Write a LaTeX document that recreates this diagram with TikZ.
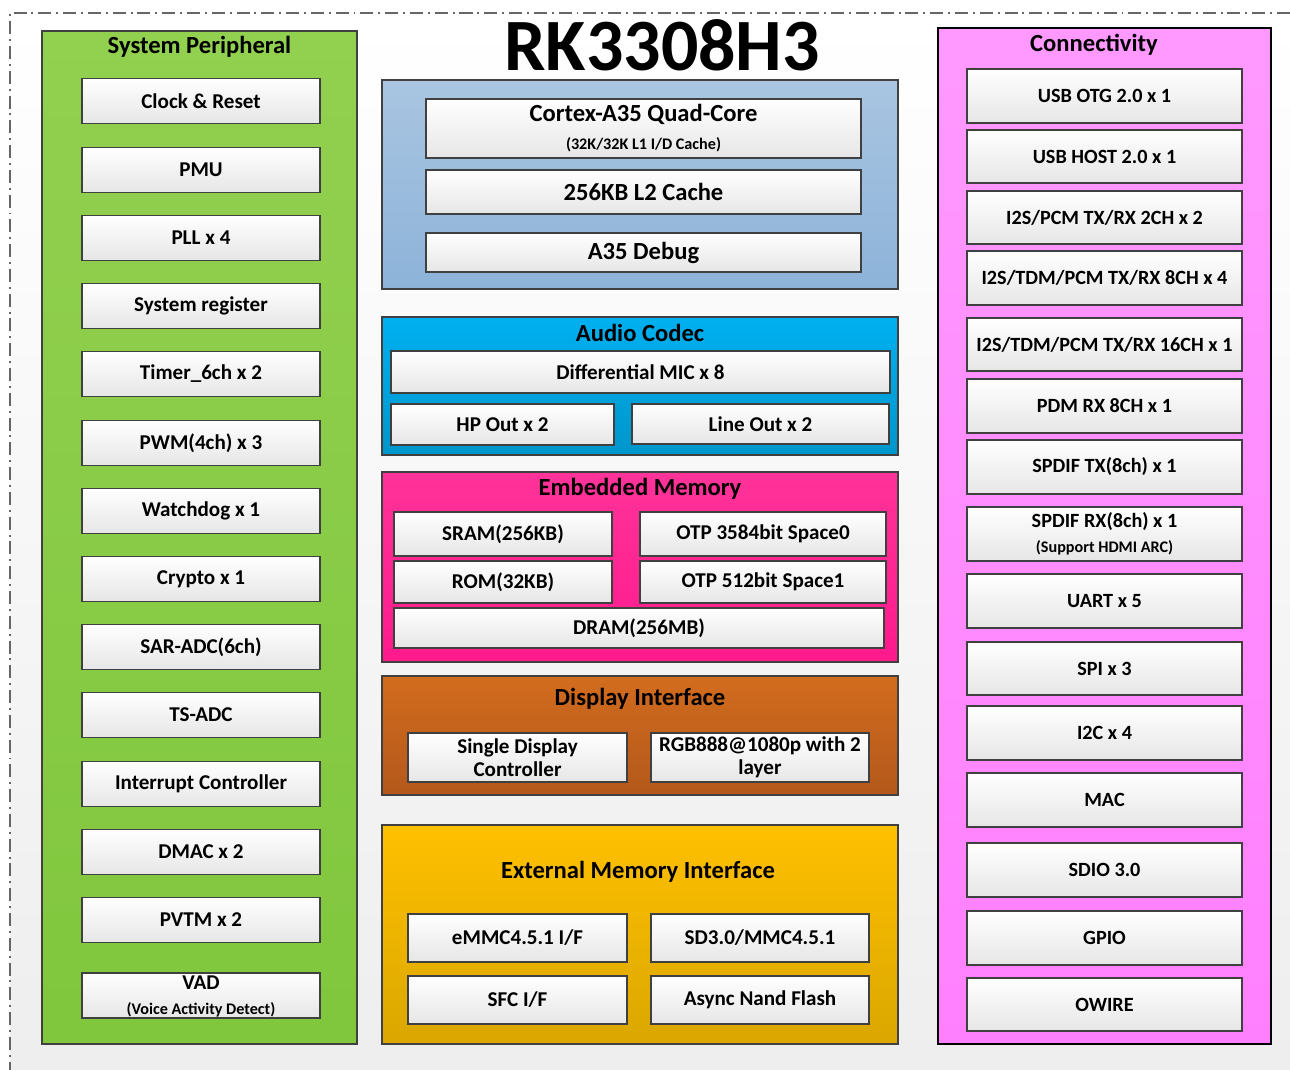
\documentclass[tikz,border=0pt]{standalone}
\usepackage{fontspec}
\setmainfont{Carlito}
\definecolor{MyEdge}{HTML}{404040}
\definecolor{MyGray}{HTML}{E6E6E6}
\definecolor{MyBack}{HTML}{EEEEEE}
\definecolor{MyGreenTop}{HTML}{92D050}
\definecolor{MyGreenBot}{HTML}{80C73D}
\definecolor{MyBlueTop}{HTML}{A9C5E1}
\definecolor{MyBlueBot}{HTML}{8DB3D9}
\definecolor{MyCyanTop}{HTML}{00B0F0}
\definecolor{MyCyanBot}{HTML}{0096CB}
\definecolor{MyPinkTop}{HTML}{FF3399}
\definecolor{MyPinkBot}{HTML}{FF1A8C}
\definecolor{MyRustTop}{HTML}{D26C1E}
\definecolor{MyRustBot}{HTML}{B3581B}
\definecolor{MyGoldTop}{HTML}{FFC000}
\definecolor{MyGoldBot}{HTML}{DAA700}
\definecolor{MyVioTop}{HTML}{FF99FF}
\definecolor{MyVioBot}{HTML}{FF80FF}
\newcommand{\subtxt}{\fontsize{9.2}{11}\selectfont}

\tikzset{
  ipbox/.style={draw=MyEdge, line width=1pt, top color=white, bottom color=MyGray,
    font=\fontsize{12}{13}\selectfont\bfseries, align=center, inner sep=0pt},
  wh/.style 2 args={minimum width=(#1)*0.02cm, minimum height=(#2)*0.02cm},
  ptitle/.style={font=\fontsize{14}{16}\selectfont\bfseries, inner sep=0pt},
}

\begin{document}
\begin{tikzpicture}[x=0.02cm, y=-0.02cm]
  \useasboundingbox (0,0) rectangle (1290,1070);
  \shade[top color=white, bottom color=MyBack] (10,13) rectangle (1290,1070);
  \draw[MyEdge!80, line width=0.8pt, dash pattern=on 7.4pt off 2.8pt on 1.1pt off 2.8pt]
    (1290,13) -- (10,13) -- (10,1070);

  \node[font=\fontsize{42}{46}\selectfont\bfseries] (chip) at (662,45) {RK3308H3};

  % system peripheral
  \draw[MyEdge, line width=0.8pt, top color=MyGreenTop, bottom color=MyGreenBot] (42,31) rectangle (357,1044);
  \node[ptitle] (sysp) at (199.5,47) {System Peripheral};
  \foreach \name/\yt/\txt in {clk/78/Clock \& Reset, pmu/147/PMU, pll/215/PLL x 4,
      sysreg/283/System register, timer/351/Timer\_6ch x 2, pwm/420/PWM(4ch) x 3,
      wdt/488/Watchdog x 1, crypto/556/Crypto x 1, saradc/624/SAR-ADC(6ch),
      tsadc/692/TS-ADC, intc/761/Interrupt Controller, dmac/829/DMAC x 2,
      pvtm/897/PVTM x 2}
    \node[ipbox, wh={238}{45}] (\name) at (201,\yt+23) {\txt};
  \node[ipbox, wh={238}{45}, text depth=0pt] (vad) at (201,995.5)
    {VAD\\[1.3pt]{\subtxt (Voice Activity Detect)}};

  % cpu
  \draw[MyEdge, line width=0.8pt, top color=MyBlueTop, bottom color=MyBlueBot] (382,80) rectangle (898,289);
  \node[ipbox, wh={435}{59}, font=\fontsize{14}{16}\selectfont\bfseries] (core) at (643.5,128.5)
    {Cortex-A35 Quad-Core\\[0pt]{\subtxt (32K/32K L1 I/D Cache)}};
  \node[ipbox, wh={435}{44}, font=\fontsize{14}{16}\selectfont\bfseries] (l2) at (643.5,192) {256KB L2 Cache};
  \node[ipbox, wh={435}{39}, font=\fontsize{14}{16}\selectfont\bfseries] (dbg) at (643.5,252.5) {A35 Debug};

  % audio
  \draw[MyEdge, line width=0.8pt, top color=MyCyanTop, bottom color=MyCyanBot] (382,317) rectangle (898,455);
  \node[ptitle] (audio) at (640,333) {Audio Codec};
  \node[ipbox, wh={499}{42}] (mic) at (640.5,372) {Differential MIC x 8};
  \node[ipbox, wh={223}{41}] (hp) at (502.5,424.5) {HP Out x 2};
  \node[ipbox, wh={257}{40}] (lineout) at (760.5,424) {Line Out x 2};

  % embedded memory
  \draw[MyEdge, line width=0.8pt, top color=MyPinkTop, bottom color=MyPinkBot] (382,472) rectangle (898,662);
  \node[ptitle] (emem) at (640,489) {Embedded Memory};
  \node[ipbox, wh={218}{44}] (sram) at (503,534) {SRAM(256KB)};
  \node[ipbox, wh={246}{44}] (otp0) at (763,534) {OTP 3584bit Space0};
  \node[ipbox, wh={218}{42}] (rom) at (503,582) {ROM(32KB)};
  \node[ipbox, wh={246}{42}] (otp1) at (763,582) {OTP 512bit Space1};
  \node[ipbox, wh={490}{40}] (dram) at (639,628) {DRAM(256MB)};

  % display
  \draw[MyEdge, line width=0.8pt, top color=MyRustTop, bottom color=MyRustBot] (382,676) rectangle (898,795);
  \node[ptitle] (disp) at (640,699) {Display Interface};
  \node[ipbox, wh={219}{49}] (vop) at (517.5,757.5) {Single Display\\Controller};
  \node[ipbox, wh={218}{49}] (rgb) at (760,757.5) {RGB888@1080p with 2\\layer};

  % external memory
  \draw[MyEdge, line width=0.8pt, top color=MyGoldTop, bottom color=MyGoldBot] (382,825) rectangle (898,1044);
  \node[ptitle] (xmem) at (638,872) {External Memory Interface};
  \node[ipbox, wh={219}{48}] (emmc) at (517.5,938) {eMMC4.5.1 I/F};
  \node[ipbox, wh={218}{48}] (sdmmc) at (760,938) {SD3.0/MMC4.5.1};
  \node[ipbox, wh={219}{48}] (sfc) at (517.5,1000) {SFC I/F};
  \node[ipbox, wh={218}{48}] (nand) at (760,1000) {Async Nand Flash};

  % connectivity
  \draw[black, line width=0.8pt, top color=MyVioTop, bottom color=MyVioBot] (938,28) rectangle (1271,1044);
  \node[ptitle] (conn) at (1094,45) {Connectivity};
  \foreach \name/\yt/\yb/\txt in {otg/69/123/USB OTG 2.0 x 1, host/130/183/USB HOST 2.0 x 1,
      i2sa/191/244/{I2S/PCM TX/RX 2CH x 2}, i2sb/251/305/{I2S/TDM/PCM TX/RX 8CH x 4},
      i2sc/318/371/{I2S/TDM/PCM TX/RX 16CH x 1}, pdm/379/433/PDM RX 8CH x 1,
      spdiftx/440/494/SPDIF TX(8ch) x 1, uart/574/628/UART x 5, spi/642/695/SPI x 3,
      i2c/706/760/I2C x 4, mac/773/827/MAC, sdio/843/897/SDIO 3.0, gpio/911/965/GPIO,
      owire/978/1031/OWIRE}
    \node[ipbox, wh={275}{\yb-\yt}, font=\fontsize{11.5}{13}\selectfont\bfseries]
      (\name) at (1104.5,{(\yt+\yb)/2}) {\txt};
  \node[ipbox, wh={275}{54}, font=\fontsize{11.5}{13}\selectfont\bfseries] (spdifrx) at (1104.5,534)
    {SPDIF RX(8ch) x 1\\[1pt]{\subtxt (Support HDMI ARC)}};
\end{tikzpicture}
\end{document}
